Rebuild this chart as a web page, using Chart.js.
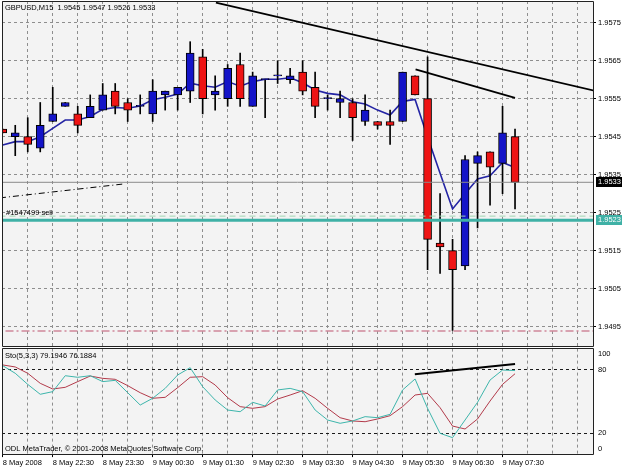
<!DOCTYPE html>
<html>
<head>
<meta charset="utf-8">
<script src="https://cdn.jsdelivr.net/npm/chart.js@4.4.0/dist/chart.umd.min.js"></script>
<style>
html, body { margin: 0; padding: 0; background: #fff; }
#wrap { position: relative; width: 625px; height: 469px; overflow: hidden; }
canvas { position: absolute; left: 0; }
#priceChart { top: 0; }
#stochChart { top: 346px; }
</style>
</head>
<body>
<div id="wrap">
  <canvas id="priceChart" width="625" height="347"></canvas>
  <canvas id="stochChart" width="625" height="123"></canvas>
</div>
<script>
// GBPUSD M15, 8-9 May 2008, one entry per candle (index 0 = 8 May 21:30)
var opens  = [1.9547, 1.9545, 1.9545, 1.9542, 1.9549, 1.9553, 1.9551, 1.9550, 1.9552, 1.9557,
              1.9554, 1.9553, 1.9551, 1.9556, 1.9556, 1.9557, 1.9566, 1.9556, 1.9555, 1.9564,
              1.9553, 1.9560, 1.9561, 1.9560, 1.9562, 1.9558, 1.9555, 1.9554, 1.9554, 1.9549,
              1.9549, 1.9549, 1.9549, 1.9561, 1.9555, 1.9517, 1.9515, 1.9511, 1.9538, 1.9541,
              1.9538, 1.9545];
var highs  = [1.9547, 1.9548, 1.9550, 1.9554, 1.9558, 1.9554, 1.9553, 1.9556, 1.9559, 1.9559,
              1.9555, 1.9556, 1.9560, 1.9557, 1.9558, 1.9570, 1.9568, 1.9561, 1.9564, 1.9567,
              1.9562, 1.9560, 1.9565, 1.9563, 1.9565, 1.9562, 1.9556, 1.9557, 1.9555, 1.9556,
              1.9549, 1.9552, 1.9562, 1.9561, 1.9566, 1.9530, 1.9518, 1.9540, 1.9541, 1.9541,
              1.9553, 1.9547];
var lows   = [1.9546, 1.9540, 1.9541, 1.9541, 1.9549, 1.9553, 1.9546, 1.9550, 1.9552, 1.9551,
              1.9549, 1.9551, 1.9549, 1.9552, 1.9552, 1.9554, 1.9551, 1.9552, 1.9553, 1.9553,
              1.9553, 1.9550, 1.9559, 1.9559, 1.9556, 1.9550, 1.9552, 1.9550, 1.9544, 1.9548,
              1.9547, 1.9543, 1.9549, 1.9556, 1.9510, 1.9509, 1.9494, 1.9510, 1.9521, 1.9527,
              1.9530, 1.9526];
var closes = [1.9546, 1.9546, 1.9543, 1.9548, 1.9551, 1.9554, 1.9548, 1.9553, 1.9556, 1.9553,
              1.9552, 1.9553, 1.9557, 1.9557, 1.9558, 1.9567, 1.9555, 1.9557, 1.9563, 1.9555,
              1.9561, 1.9560, 1.9561, 1.9561, 1.9557, 1.9553, 1.9555, 1.9555, 1.9550, 1.9552,
              1.9548, 1.9548, 1.9562, 1.9556, 1.9518, 1.9516, 1.9510, 1.9539, 1.9540, 1.9537,
              1.9546, 1.9533];
var maValues = [1.95428, 1.95437, 1.95437, 1.95450, 1.95472, 1.95494, 1.95494, 1.95503, 1.95522, 1.95527,
                1.95525, 1.95531, 1.95547, 1.95554, 1.95562, 1.95591, 1.95584, 1.95580, 1.95595, 1.95583,
                1.95595, 1.95601, 1.95601, 1.95605, 1.95592, 1.95573, 1.95564, 1.95560, 1.95542, 1.95536,
                1.95520, 1.95507, 1.95543, 1.95548, 1.95449, 1.95354, 1.95260, 1.95300, 1.95339, 1.95347,
                1.95382, 1.95369];
var stochK = [83.8, 76.6, 66.1, 56.7, 59.2, 74.3, 72.8, 74.3, 68.7, 69.9,
              58.2, 46.5, 52.9, 62.3, 75.0, 81.9, 63.9, 51.3, 41.8, 40.2,
              49.1, 45.6, 60.8, 62.3, 59.2, 41.8, 32.3, 29.2, 31.4, 35.5,
              34.5, 37.7, 60.8, 71.2, 43.4, 19.7, 15.6, 32.3, 49.1, 70.2,
              79.7, 79.1946];
var stochD = [84.5, 82.6, 76.6, 67.1, 61.7, 63.3, 68.7, 74.0, 71.8, 70.9,
              64.9, 58.2, 52.9, 53.8, 63.0, 72.8, 73.4, 65.5, 53.5, 45.0,
              43.4, 45.0, 52.2, 56.0, 60.1, 52.9, 43.4, 34.5, 31.4, 30.7,
              33.3, 36.4, 45.0, 56.0, 57.6, 44.0, 26.6, 23.8, 33.3, 50.3,
              66.1, 76.1884];

// drawn objects (candle index, price)
var trendUpper = [[17.06, 1.95803], [48.0, 1.95566]];
var trendLower = [[33.04, 1.95627], [41.0, 1.95552]];
var trendLeft  = [[-0.22, 1.95289], [9.78, 1.95326]];
var stochTrend = [[32.98, 75.6], [41.0, 85.4]];
var bidPrice = 1.9533, orderPrice = 1.9523, orderDashPrice = 1.95241, stopPrice = 1.94939;

// axes
var priceTicks = [1.9495, 1.9505, 1.9515, 1.9525, 1.9535, 1.9545, 1.9555, 1.9565, 1.9575];
var stochLevels = [20, 80];
var stochTicks = [100, 80, 20, 0];
var gridSlots = [0, 2, 4, 6, 8, 10, 12, 14, 16, 18, 20, 22, 24, 26, 28, 30, 32, 34, 36, 38, 40, 42, 44, 46];
var labelSlots = [0, 4, 8, 12, 16, 20, 24, 28, 32, 36, 40];
var timeLabels = ['8 May 2008', '8 May 22:30', '8 May 23:30', '9 May 00:30', '9 May 01:30', '9 May 02:30',
                  '9 May 03:30', '9 May 04:30', '9 May 05:30', '9 May 06:30', '9 May 07:30'];

var xMin = -0.06, xMax = 47.24;
var priceMin = 1.948992, priceMax = 1.958071;

var FONT = '"Liberation Sans", Arial, sans-serif';
Chart.defaults.font.family = FONT;
Chart.defaults.font.size = 7.5;
Chart.defaults.color = '#000';

var GRID = '#8e8e8e';
var last = opens.length - 1;

function pts(list) { return list.map(function (p) { return { x: p[0], y: p[1] }; }); }
function hLine(v) { return [{ x: xMin - 1, y: v }, { x: xMax + 1, y: v }]; }
function lineSet(data, color, width, dash, order) {
    return { type: 'line', data: data, borderColor: color, borderWidth: width, borderDash: dash || [],
             pointRadius: 0, tension: 0, clip: 0, order: order };
}

var decor = {
    id: 'decor',
    beforeDraw: function (chart) {
        var a = chart.chartArea, ctx = chart.ctx;
        ctx.save();
        ctx.fillStyle = '#f3f3f3';
        ctx.fillRect(a.left, a.top, a.right - a.left, a.bottom - a.top);
        ctx.restore();
    },
    afterDraw: function (chart, args, opts) {
        var a = chart.chartArea, ctx = chart.ctx, y = chart.scales.y;
        ctx.save();
        ctx.strokeStyle = '#222';
        ctx.lineWidth = 1;
        ctx.beginPath();
        var l = Math.floor(a.left) + 0.5, r = Math.floor(a.right) + 0.5;
        var t = Math.floor(a.top) + 0.5, b = Math.floor(a.bottom) + 0.5;
        ctx.moveTo(l, t); ctx.lineTo(r, t); ctx.lineTo(r, b); ctx.lineTo(l, b); ctx.closePath();
        ctx.stroke();

        ctx.font = '7.5px ' + FONT;
        ctx.textBaseline = 'middle';
        ctx.textAlign = 'left';
        (opts.texts || []).forEach(function (tx) {
            ctx.fillStyle = '#000';
            ctx.fillText(tx.text, tx.x, tx.y);
        });
        (opts.axisLabels || []).forEach(function (v) {
            var py = Math.min(Math.max(y.getPixelForValue(v), a.top + 5.4), a.bottom - 4.8);
            ctx.fillStyle = '#000';
            ctx.fillText(String(v), a.right + 5, py);
        });
        (opts.tags || []).forEach(function (tg) {
            var py = y.getPixelForValue(tg.value);
            ctx.fillStyle = tg.bg;
            ctx.fillRect(a.right + 3, Math.round(py) - 5, 26, 10);
            ctx.fillStyle = '#fff';
            ctx.fillText(tg.value.toFixed(4), a.right + 5, py);
        });
        ctx.restore();
    }
};

var bodies = opens.map(function (o, i) { return { x: i, y: [o, closes[i]] }; });
var wicks = highs.map(function (h, i) { return { x: i, y: [lows[i], h] }; });
var maPts = maValues.map(function (v, i) { return { x: i, y: v }; });
var bodyColors = opens.map(function (o, i) { return closes[i] >= o ? '#1414c8' : '#ee1414'; });

new Chart(document.getElementById('priceChart'), {
    type: 'bar',
    data: {
        datasets: [
            lineSet(maPts, '#2424a4', 1.6, null, 6),
            { type: 'bar', data: wicks, backgroundColor: '#000', borderWidth: 0, barThickness: 1,
              grouped: false, order: 5 },
            { type: 'bar', data: bodies, backgroundColor: bodyColors, borderColor: '#000', borderWidth: 1,
              borderSkipped: false, barThickness: 8, minBarLength: 1, grouped: false, order: 4 },
            lineSet(hLine(bidPrice), '#8a8a8a', 1, null, 3),
            lineSet(hLine(orderDashPrice), '#9fd6b2', 1, [6, 4], 3),
            lineSet(hLine(orderPrice), '#3fb1a6', 3, null, 3),
            lineSet(hLine(stopPrice), '#d0889a', 1.5, [8, 3, 2, 3], 3),
            lineSet(pts(trendUpper), '#000', 1.8, null, 1),
            lineSet(pts(trendLower), '#000', 1.8, null, 1),
            lineSet(pts(trendLeft), '#000', 1, [6, 3, 1, 3], 1)
        ]
    },
    options: {
        responsive: false,
        animation: false,
        events: [],
        layout: { padding: { left: 2, top: 1, right: 0, bottom: 1 } },
        plugins: {
            legend: { display: false },
            tooltip: { enabled: false },
            decor: {
                texts: [
                    { text: 'GBPUSD,M15  ' + [opens[last], highs[last], lows[last], closes[last]]
                        .map(function (v) { return v.toFixed(4); }).join(' '), x: 5, y: 7.5 },
                    { text: '#1547499 sell', x: 6, y: 212.5 }
                ],
                tags: [{ value: bidPrice, bg: '#000' }, { value: orderPrice, bg: '#3fb1a6' }]
            }
        },
        scales: {
            x: {
                type: 'linear', min: xMin, max: xMax, offset: false,
                grid: { color: GRID, drawTicks: false, offset: false },
                border: { display: false, dash: [3, 3] },
                ticks: { display: false },
                afterBuildTicks: function (s) { s.ticks = gridSlots.map(function (v) { return { value: v }; }); },
                afterFit: function (s) { s.height = 0; s.paddingLeft = 0; s.paddingRight = 0; }
            },
            y: {
                type: 'linear', position: 'right', min: priceMin, max: priceMax,
                grid: { color: GRID, tickColor: '#000', tickLength: 3 },
                border: { display: false, dash: [3, 3] },
                ticks: { padding: 2, autoSkip: false, callback: function (v) { return v.toFixed(4); } },
                afterBuildTicks: function (s) { s.ticks = priceTicks.map(function (v) { return { value: v }; }); },
                afterFit: function (s) { s.width = 32; s.paddingTop = 0; s.paddingBottom = 0; }
            }
        }
    },
    plugins: [decor]
});

new Chart(document.getElementById('stochChart'), {
    type: 'line',
    data: {
        datasets: [
            lineSet(stochK.map(function (v, i) { return { x: i, y: v }; }), '#3db5ab', 1, null, 2),
            lineSet(stochD.map(function (v, i) { return { x: i, y: v }; }), '#b23a4a', 1, null, 3),
            lineSet(pts(stochTrend), '#000', 2, null, 1)
        ]
    },
    options: {
        responsive: false,
        animation: false,
        events: [],
        layout: { padding: { left: 2, top: 2.6, right: 0, bottom: 0 } },
        plugins: {
            legend: { display: false },
            tooltip: { enabled: false },
            decor: {
                texts: [
                    { text: 'Sto(5,3,3) ' + stochK[last].toFixed(4) + ' ' + stochD[last].toFixed(4), x: 5, y: 9.7 },
                    { text: 'ODL MetaTrader, \u00A9 2001-2008 MetaQuotes Software Corp.', x: 5, y: 103 }
                ],
                axisLabels: stochTicks
            }
        },
        scales: {
            x: {
                type: 'linear', min: xMin, max: xMax, offset: false,
                grid: {
                    color: GRID, tickLength: 3, offset: false,
                    tickColor: function (c) { return labelSlots.indexOf(c.tick && c.tick.value) >= 0 ? '#000' : 'rgba(0,0,0,0)'; }
                },
                border: { display: false, dash: [3, 3] },
                ticks: {
                    autoSkip: false, maxRotation: 0, align: 'start', padding: 1,
                    callback: function (v) { var k = labelSlots.indexOf(v); return k < 0 ? '' : timeLabels[k]; }
                },
                afterBuildTicks: function (s) { s.ticks = gridSlots.map(function (v) { return { value: v }; }); },
                afterFit: function (s) { s.height = 14.9; s.paddingLeft = 0; s.paddingRight = 0; }
            },
            y: {
                type: 'linear', position: 'right', min: 0, max: 100,
                grid: { color: '#1a1a1a', drawTicks: false },
                border: { display: false, dash: [3, 3] },
                ticks: { display: false },
                afterBuildTicks: function (s) { s.ticks = stochLevels.map(function (v) { return { value: v }; }); },
                afterFit: function (s) { s.width = 32; s.paddingTop = 0; s.paddingBottom = 0; }
            }
        }
    },
    plugins: [decor]
});
</script>
</body>
</html>
